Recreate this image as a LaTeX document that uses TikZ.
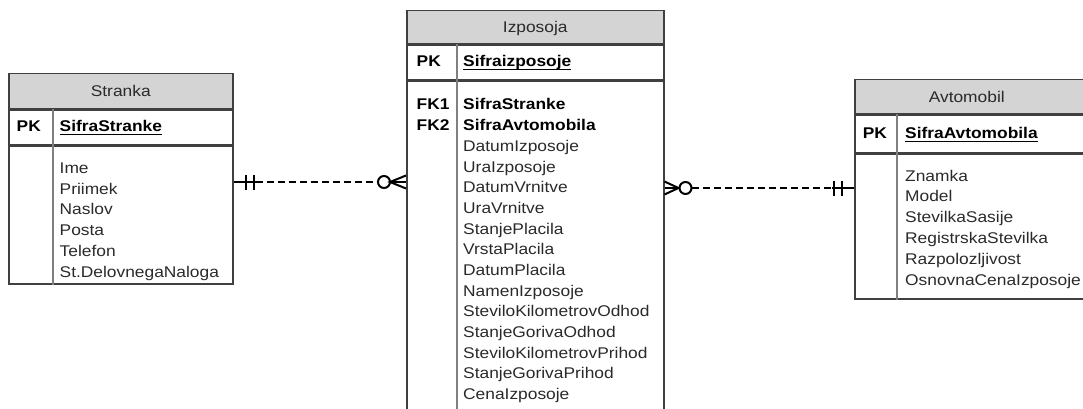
\documentclass[tikz,border=0pt]{standalone}
\usepackage{fontspec}
\setmainfont{Liberation Sans}[FakeStretch=1.12]
\usetikzlibrary{calc}

\definecolor{hdrgray}{HTML}{D4D4D4}
\definecolor{edgegray}{HTML}{404040}
\definecolor{txtgray}{HTML}{2A2A2A}

% thick underline for primary keys
\newcommand{\keyline}[1]{\setbox0\hbox{#1}\rlap{\vrule height -2.2pt depth 3.8pt width \wd0}\box0}

\tikzset{
	ent/.style={draw=edgegray, line width=1.5pt, anchor=north west, inner sep=0pt},
	head/.style={ent, fill=hdrgray, text=txtgray, text height=11.5pt, text depth=0pt,
		font=\fontsize{15.5}{18}\selectfont},
	col/.style={draw=gray, line width=1.3pt},
	attr/.style={anchor=base west, inner sep=0pt, text=txtgray, font=\fontsize{15.5}{18}\selectfont},
	key/.style={attr, text=black, font=\fontsize{15.5}{18}\selectfont\bfseries},
	rel/.style={line width=1.9pt, dash pattern=on 7pt off 4pt},
	bar/.style={line width=2pt},
}

\begin{document}
\begin{tikzpicture}[x=1pt, y=-1pt]
	\clip (0,0) rectangle (1083,409);

	% Stranka
	\node[head, minimum width=224pt, minimum height=35pt] (stranka) at (8,73) {Stranka};
	\node[ent, minimum width=224pt, minimum height=34pt] (strankaPK) at (stranka.south west) {};
	\node[ent, minimum width=224pt, minimum height=138pt] (strankaAtr) at (strankaPK.south west) {};
	\draw[col] ([xshift=45pt]strankaPK.north west) -- ([xshift=45pt]strankaAtr.south west);
	\node[key] (strankaPKlbl) at (16.5,131.5) {PK};
	\node[key] (strankaPKatr) at (59.5,131.5) {\keyline{SifraStranke}};
	\foreach \a [count=\i from 0] in {Ime,Priimek,Naslov,Posta,Telefon,St.DelovnegaNaloga}
		\node[attr] (stranka-\i) at (59.5,173.3+20.8*\i) {\a};

	% Izposoja
	\node[head, minimum width=257pt, minimum height=33pt] (izposoja) at (406,10) {Izposoja};
	\node[ent, minimum width=257pt, minimum height=35pt] (izposojaPK) at (izposoja.south west) {};
	\node[ent, minimum width=257pt, minimum height=345pt] (izposojaAtr) at (izposojaPK.south west) {};
	\draw[col] ([xshift=51pt]izposojaPK.north west) -- ([xshift=51pt]izposojaAtr.south west);
	\node[key] (izposojaPKlbl) at (416.5,66.7) {PK};
	\node[key] (izposojaPKatr) at (463,66.7) {\keyline{Sifraizposoje}};
	\node[key] (izposojaFK1) at (416.5,110) {FK1};
	\node[key] (izposojaFK2) at (416.5,130.7) {FK2};
	\node[key] (izposoja-0) at (463,110) {SifraStranke};
	\node[key] (izposoja-1) at (463,130.7) {SifraAvtomobila};
	\foreach \a [count=\i from 2] in {DatumIzposoje,UraIzposoje,DatumVrnitve,UraVrnitve,
		StanjePlacila,VrstaPlacila,DatumPlacila,NamenIzposoje,SteviloKilometrovOdhod,
		StanjeGorivaOdhod,SteviloKilometrovPrihod,StanjeGorivaPrihod,CenaIzposoje}
		\node[attr] (izposoja-\i) at (463,110+20.67*\i) {\a};

	% Avtomobil
	\node[head, minimum width=240pt, minimum height=34pt] (avtomobil) at (854,79) {\hspace*{-16pt}Avtomobil};
	\node[ent, minimum width=240pt, minimum height=37pt] (avtomobilPK) at (avtomobil.south west) {};
	\node[ent, minimum width=240pt, minimum height=145pt] (avtomobilAtr) at (avtomobilPK.south west) {};
	\draw[col] ([xshift=43pt]avtomobilPK.north west) -- ([xshift=43pt]avtomobilAtr.south west);
	\node[key] (avtomobilPKlbl) at (862.7,138.3) {PK};
	\node[key] (avtomobilPKatr) at (905,138.3) {\keyline{SifraAvtomobila}};
	\foreach \a [count=\i from 0] in {Znamka,Model,StevilkaSasije,RegistrskaStevilka,
		Razpolozljivost,OsnovnaCenaIzposoje}
		\node[attr] (avtomobil-\i) at (905,181+20.8*\i) {\a};

	% Stranka -- Izposoja (one to zero or many)
	\coordinate (relL) at (0,182);
	\coordinate (sEnd) at (strankaAtr.east |- relL);
	\coordinate (iEndL) at (izposojaAtr.west |- relL);
	\draw[bar] (sEnd) -- ([xshift=22pt]sEnd);
	\draw[bar] ([xshift=12pt,yshift=7.5pt]sEnd) -- ([xshift=12pt,yshift=-7.5pt]sEnd);
	\draw[bar] ([xshift=20pt,yshift=7.5pt]sEnd) -- ([xshift=20pt,yshift=-7.5pt]sEnd);
	\draw[rel] ([xshift=22pt]sEnd) -- ([xshift=-28pt]iEndL);
	\draw[bar] ([xshift=-22pt]iEndL) circle (6pt);
	\draw[bar] ([yshift=6.5pt]iEndL) -- ([xshift=-16pt]iEndL) -- ([yshift=-6.5pt]iEndL);
	\draw[bar] ([xshift=-16pt]iEndL) -- (iEndL);

	% Izposoja -- Avtomobil (zero or many to one)
	\coordinate (relR) at (0,188);
	\coordinate (iEndR) at (izposojaAtr.east |- relR);
	\coordinate (aEnd) at (avtomobilAtr.west |- relR);
	\draw[bar] ([yshift=6.5pt]iEndR) -- ([xshift=14pt]iEndR) -- ([yshift=-6.5pt]iEndR);
	\draw[bar] (iEndR) -- ([xshift=14pt]iEndR);
	\draw[bar] ([xshift=21pt]iEndR) circle (6pt);
	\draw[rel] ([xshift=27pt]iEndR) -- ([xshift=-22pt]aEnd);
	\draw[bar] ([xshift=-22pt]aEnd) -- (aEnd);
	\draw[bar] ([xshift=-12pt,yshift=7.5pt]aEnd) -- ([xshift=-12pt,yshift=-7.5pt]aEnd);
	\draw[bar] ([xshift=-20pt,yshift=7.5pt]aEnd) -- ([xshift=-20pt,yshift=-7.5pt]aEnd);
\end{tikzpicture}
\end{document}
